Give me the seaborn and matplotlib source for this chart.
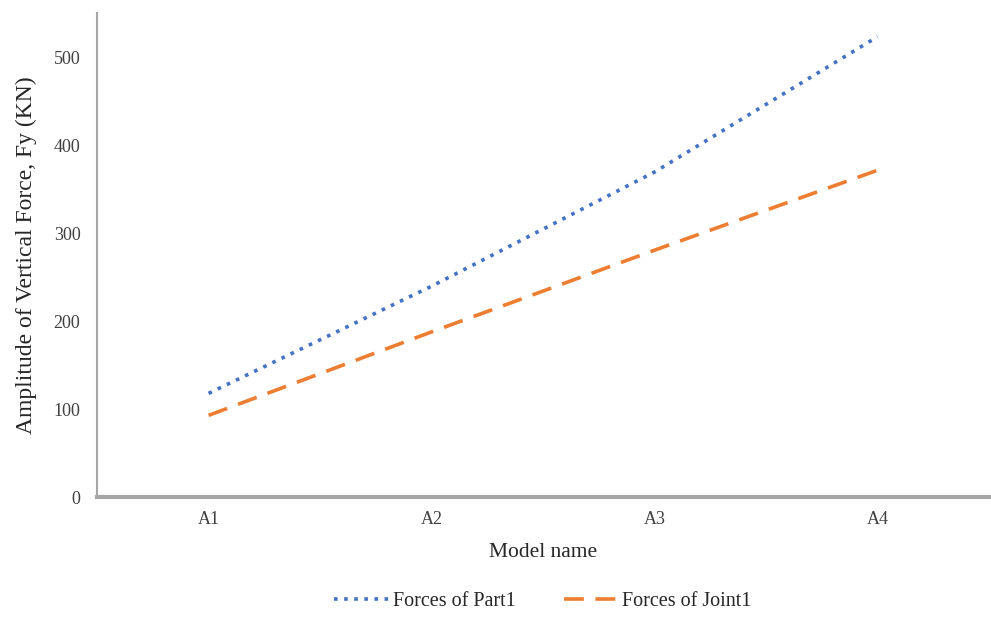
import matplotlib
matplotlib.use("Agg")
import matplotlib.pyplot as plt
import seaborn as sns
import pandas as pd

# Model names and vertical force amplitudes (kN)
models = ["A1", "A2", "A3", "A4"]
part_forces = [118, 240, 370, 524]
joint_forces = [93, 188, 281, 372]
series_names = ["Forces of Part1", "Forces of Joint1"]
y_ticks = [0, 100, 200, 300, 400, 500]

df = pd.DataFrame({
    "Model name": models * 2,
    "Force": part_forces + joint_forces,
    "Series": [series_names[0]] * len(models) + [series_names[1]] * len(models),
})

sns.set_theme(style="white")
plt.rcParams["font.family"] = ["Liberation Serif", "DejaVu Serif"]

fig = plt.figure(figsize=(9.91, 6.19), dpi=100)
ax = fig.add_axes([0.098, 0.197, 0.900, 0.782])

palette = {series_names[0]: "#4472C4", series_names[1]: "#ED7D31"}
dashes = {series_names[0]: (1, 1.8), series_names[1]: (5.5, 3.2)}

sns.lineplot(data=df, x="Model name", y="Force", hue="Series", style="Series",
             palette=palette, dashes=dashes, linewidth=2.6, sort=False,
             ax=ax, legend=True)

ax.set_xlim(-0.5, len(models) - 0.5)
ax.set_ylim(0, 551)
ax.set_yticks(y_ticks)
ax.set_xticks(range(len(models)))
ax.set_xticklabels(models)
ax.tick_params(axis="both", length=0, labelsize=13, colors="#404040")
ax.tick_params(axis="y", pad=12)
ax.tick_params(axis="x", pad=10)

ax.set_xlabel("Model name", fontsize=15.5, color="#262626", labelpad=11)
ax.set_ylabel("Amplitude of Vertical Force, Fy (KN)", fontsize=17,
              color="#262626", labelpad=12)

for side in ["top", "right"]:
    ax.spines[side].set_visible(False)
ax.spines["left"].set_color("#A6A6A6")
ax.spines["left"].set_linewidth(1.5)
ax.spines["bottom"].set_color("#A6A6A6")
ax.spines["bottom"].set_linewidth(3)

leg = ax.legend(loc="upper center", bbox_to_anchor=(0.50, -0.158), ncol=2,
                frameon=False, fontsize=14.5, handlelength=2.7,
                columnspacing=2.4, handletextpad=0.2)
for t in leg.get_texts():
    t.set_color("#262626")

fig.savefig("out.png", dpi=100, facecolor="white")
